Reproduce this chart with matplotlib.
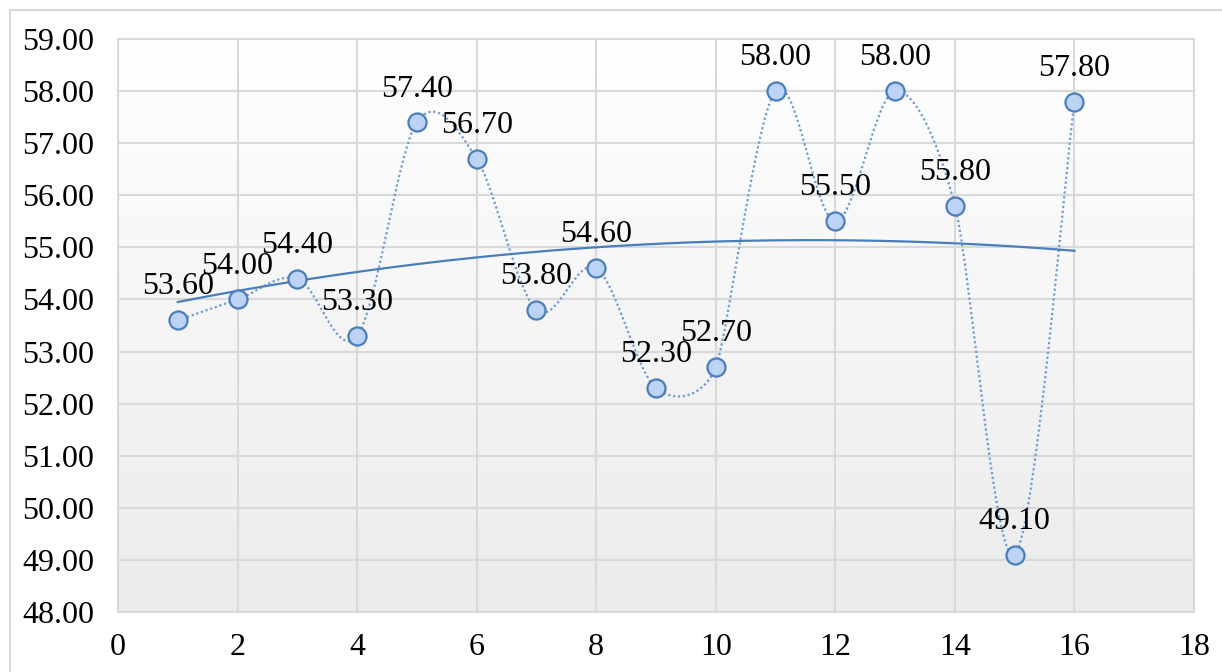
import numpy as np
import matplotlib.pyplot as plt
from matplotlib.colors import LinearSegmentedColormap
from matplotlib.patches import Rectangle

x_vals = [1, 2, 3, 4, 5, 6, 7, 8, 9, 10, 11, 12, 13, 14, 15, 16]
y_vals = [53.6, 54.0, 54.4, 53.3, 57.4, 56.7, 53.8, 54.6, 52.3, 52.7,
          58.0, 55.5, 58.0, 55.8, 49.1, 57.8]
y_ticks = [48, 49, 50, 51, 52, 53, 54, 55, 56, 57, 58, 59]
x_ticks = [0, 2, 4, 6, 8, 10, 12, 14, 16, 18]

plt.rcParams['font.family'] = ['Liberation Serif', 'DejaVu Serif']

# data units -> approx pixels, used so the smoothing behaves like excel's
SX, SY = 59.8, 52.1


def smooth_curve(xs, ys, n=40):
    # excel-like smoothing: bezier segments, tangent length capped by
    # half of the shorter neighbouring segment
    pts = np.column_stack([np.asarray(xs, float) * SX, np.asarray(ys, float) * SY])
    m = len(pts)
    tang = []
    for i in range(m):
        p0 = pts[max(i - 1, 0)]
        p2 = pts[min(i + 1, m - 1)]
        p1 = pts[i]
        d02 = np.linalg.norm(p2 - p0)
        d01 = np.linalg.norm(p1 - p0)
        d12 = np.linalg.norm(p2 - p1)
        f = 1 / 6
        short = min(d01, d12) if i not in (0, m - 1) else max(d01, d12)
        if d02 > 0 and d02 * f > short / 2:
            f = short / (2 * d02)
        tang.append((p2 - p0) * f)
    out = []
    for i in range(m - 1):
        p1, p2 = pts[i], pts[i + 1]
        c1 = p1 + tang[i]
        c2 = p2 - tang[i + 1]
        t = np.linspace(0, 1, n)[:, None]
        seg = ((1 - t) ** 3) * p1 + 3 * ((1 - t) ** 2) * t * c1 \
            + 3 * (1 - t) * t ** 2 * c2 + t ** 3 * p2
        out.append(seg if i == 0 else seg[1:])
    seg = np.vstack(out)
    return seg[:, 0] / SX, seg[:, 1] / SY


fig = plt.figure(figsize=(12.22, 6.72), dpi=100)
fig.patches.append(Rectangle((10 / 1222, -0.05), 1.1, 1 - 10 / 672 + 0.05,
                             transform=fig.transFigure, fill=False,
                             edgecolor='#d9d9d9', linewidth=1.5))
ax = fig.add_axes([118 / 1222, 1 - 612 / 672, (1194 - 118) / 1222, (612 - 39) / 672])

# gradient background of the plot area
grad = np.linspace(0, 1, 256)[:, None]
ax.imshow(grad, extent=[0, 18, 48, 59], aspect='auto',
          cmap=LinearSegmentedColormap.from_list('g', ['#ffffff', '#ebebeb']),
          origin='upper', zorder=0)

ax.set_xlim(0, 18)
ax.set_ylim(48, 59)
ax.set_xticks(x_ticks)
ax.set_yticks(y_ticks)
ax.set_yticklabels([f"{v:.2f}" for v in y_ticks])
ax.grid(True, color='#d9d9d9', linewidth=1.5, zorder=1)
ax.set_axisbelow(True)
for s in ax.spines.values():
    s.set_color('#d9d9d9')
    s.set_linewidth(1.5)
ax.tick_params(length=0, labelsize=23, pad=17)
ax.tick_params(axis='x', pad=15)

sx, sy = smooth_curve(x_vals, y_vals)
ax.plot(sx, sy, linestyle=(0, (1, 1.2)), color='#6f9ad3', linewidth=1.6, zorder=3)

# polynomial (order 2) trendline
coef = np.polyfit(x_vals, y_vals, 2)
tx = np.linspace(x_vals[0], x_vals[-1], 200)
ax.plot(tx, np.polyval(coef, tx), color='#4a7ebb', linewidth=1.6, zorder=4)

ax.plot(x_vals, y_vals, linestyle='none', marker='o', markersize=13,
        markerfacecolor='#bcd3f5', markeredgecolor='#4a7ebb',
        markeredgewidth=1.6, zorder=5)

for xv, yv in zip(x_vals, y_vals):
    ax.annotate(f"{yv:.2f}", (xv, yv), xytext=(0, 24), textcoords='offset points',
                ha='center', va='center', fontsize=23, zorder=6)

fig.savefig('out.png', dpi=100)
